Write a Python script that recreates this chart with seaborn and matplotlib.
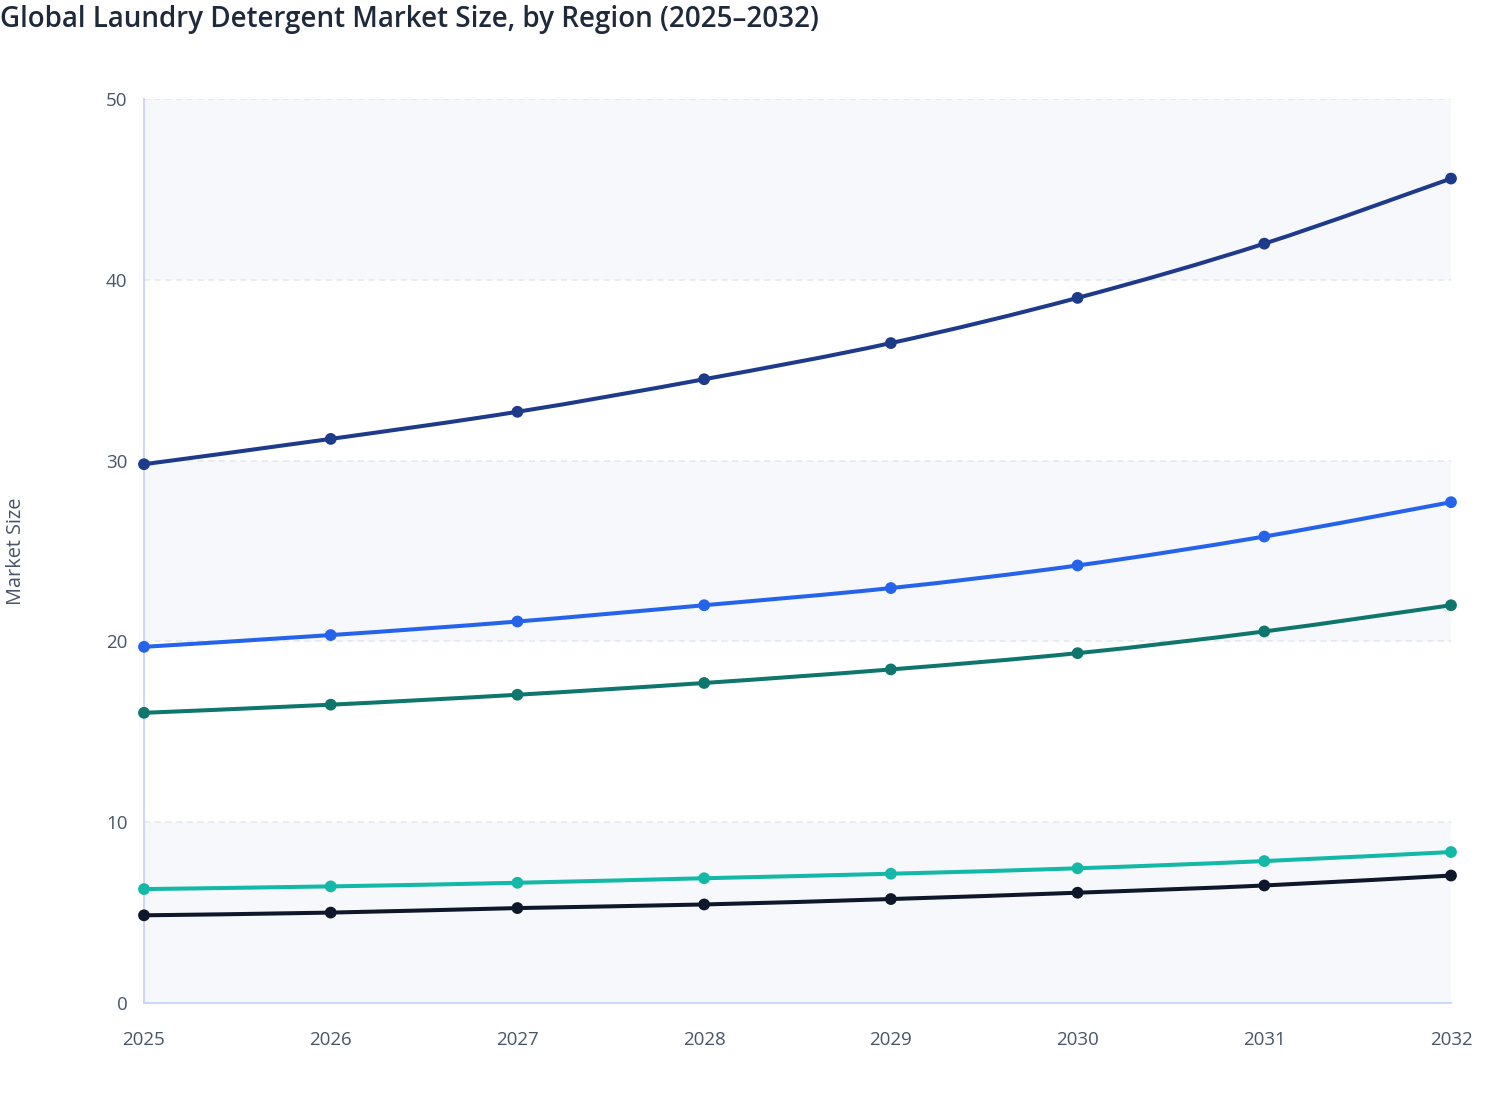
import matplotlib
matplotlib.use("Agg")
import matplotlib.pyplot as plt
from matplotlib.path import Path
from matplotlib.patches import PathPatch
import seaborn as sns
import pandas as pd

years = [2025, 2026, 2027, 2028, 2029, 2030, 2031, 2032]
asia_pacific = [29.8, 31.2, 32.7, 34.5, 36.5, 39.0, 42.0, 45.6]
north_america = [19.7, 20.35, 21.1, 22.0, 22.95, 24.2, 25.8, 27.7]
europe = [16.05, 16.5, 17.05, 17.7, 18.45, 19.35, 20.55, 22.0]
latin_america = [6.3, 6.45, 6.65, 6.9, 7.15, 7.45, 7.85, 8.35]
mea = [4.85, 5.0, 5.25, 5.45, 5.75, 6.1, 6.5, 7.05]

series_names = ["Asia Pacific", "North America", "Europe", "Latin America", "Middle East & Africa"]
series_values = [asia_pacific, north_america, europe, latin_america, mea]
colors = ["#1e3a8a", "#2563eb", "#0f766e", "#14b8a6", "#0f172a"]
y_ticks = [0, 10, 20, 30, 40, 50]

rows = []
for name, vals in zip(series_names, series_values):
    for yr, v in zip(years, vals):
        rows.append({"Year": yr, "Market Size": v, "Region": name})
df = pd.DataFrame(rows)

sns.set_theme(style="white")
plt.rcParams["font.family"] = ["Open Sans", "DejaVu Sans"]

fig = plt.figure(figsize=(15.08, 11.2), dpi=100)
ax = fig.add_axes([144 / 1508, 1 - 1003 / 1120, (1451 - 144) / 1508, (1003 - 99) / 1120])
ax.set_facecolor("white")

# alternating bands
for i in range(len(y_ticks) - 1):
    if i % 2 == 0:
        ax.axhspan(y_ticks[i], y_ticks[i + 1], facecolor="#f6f8fb", zorder=0, lw=0)
for t in y_ticks[1:]:
    ax.axhline(t, color="#e2e8f0", lw=1.1, ls=(0, (4, 3)), zorder=0.5)


def smooth_path(xs, ys, k=1 / 6):
    n = len(xs)
    verts = [(xs[0], ys[0])]
    codes = [Path.MOVETO]
    for i in range(n - 1):
        i0 = max(i - 1, 0)
        i3 = min(i + 2, n - 1)
        c1 = (xs[i] + (xs[i + 1] - xs[i0]) * k, ys[i] + (ys[i + 1] - ys[i0]) * k)
        c2 = (xs[i + 1] - (xs[i3] - xs[i]) * k, ys[i + 1] - (ys[i3] - ys[i]) * k)
        verts += [c1, c2, (xs[i + 1], ys[i + 1])]
        codes += [Path.CURVE4] * 3
    return Path(verts, codes)


for name, color in zip(series_names, colors):
    sub = df[df["Region"] == name]
    ax.add_patch(PathPatch(smooth_path(list(sub["Year"]), list(sub["Market Size"])),
                           facecolor="none", edgecolor=color, lw=2.9, zorder=3,
                           capstyle="round", joinstyle="round"))

sns.scatterplot(data=df, x="Year", y="Market Size", hue="Region", hue_order=series_names,
                palette=colors, s=72, linewidth=0, legend=False, ax=ax, zorder=4)

ax.set_xlim(years[0], years[-1])
ax.set_ylim(0, 50)
ax.set_xticks(years)
ax.set_xticklabels([str(y) for y in years])
ax.set_yticks(y_ticks)
ax.set_yticklabels([str(t) for t in y_ticks])
for coll in ax.collections:
    coll.set_clip_on(False)

for s in ["top", "right"]:
    ax.spines[s].set_visible(False)
for s in ["left", "bottom"]:
    ax.spines[s].set_color("#c7d2fe")
    ax.spines[s].set_linewidth(1.3)
ax.tick_params(axis="both", which="major", length=9, width=1.3, color="#c7d2fe",
               labelsize=13.5, labelcolor="#475569")
ax.tick_params(axis="x", pad=11)
ax.tick_params(axis="y", pad=3)

ax.set_xlabel("")
ax.set_ylabel("")
fig.text(16 / 1508, 1 - 551 / 1120, "Market Size", rotation=90, ha="center", va="center",
         fontsize=14.3, color="#475569")
fig.text(0 / 1508, 1 - 19 / 1120, "Global Laundry Detergent Market Size, by Region (2025\u20132032)",
         ha="left", va="center", fontsize=20, fontweight="semibold", color="#1e293b")

fig.savefig("out.png", dpi=100, facecolor="white")
